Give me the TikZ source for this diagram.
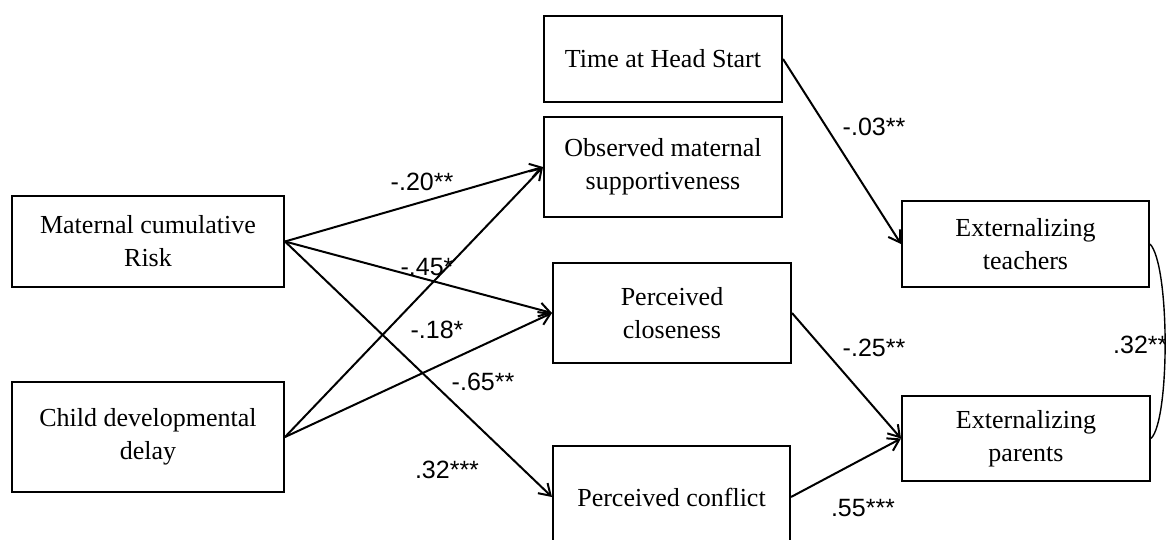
\documentclass[tikz,border=0pt]{standalone}
\usepackage{fontspec}
\setmainfont{Liberation Serif}
\newfontfamily\labfont{Liberation Sans}
\usetikzlibrary{arrows.meta}
\begin{document}
\begin{tikzpicture}[x=1pt,y=-1pt,
  box/.style={draw, line width=2pt, inner sep=0pt, align=center,
    font=\fontsize{26}{33}\selectfont},
  lab/.style={font=\labfont\fontsize{25}{28}\selectfont, inner sep=0pt},
  arr/.style={line width=2pt,
    -{Straight Barb[length=11pt,width=14pt,line width=2pt]}}]
\useasboundingbox (0,0) rectangle (1166,540);
\clip (0,0) rectangle (1166,540);
\fill[white] (0,0) rectangle (1166,540);

\node[box, minimum width=238pt, minimum height=86pt] (time) at (663,59) {Time at Head Start};
\node[box, minimum width=238pt, minimum height=100pt] (obs) at (663,167) {Observed maternal\\supportiveness};
\node[box, minimum width=272pt, minimum height=91pt] (mat) at (148,241.5) {Maternal cumulative\\Risk};
\node[box, minimum width=272pt, minimum height=110pt] (child) at (148,437) {Child developmental\\delay};
\node[box, minimum width=238pt, minimum height=100pt] (close) at (672,313) {Perceived\\closeness};
\node[box, minimum width=237pt, minimum height=102pt] (conf) at (671.5,497) {Perceived conflict};
\node[box, minimum width=247pt, minimum height=86pt] (teach) at (1025.5,244) {Externalizing\\teachers};
\node[box, minimum width=248pt, minimum height=85pt] (par) at (1026,438.5) {Externalizing\\parents};

\draw[arr] (mat.east) -- (obs.west);
\draw[arr] (mat.east) -- (close.west);
\draw[arr] (mat.east) -- (conf.west);
\draw[arr] (child.east) -- (obs.west);
\draw[arr] (child.east) -- (close.west);
\draw[arr] (time.east) -- (teach.west);
\draw[arr] (close.east) -- (par.west);
\draw[arr] (conf.east) -- (par.west);
\draw[line width=1.4pt] (teach.east) .. controls (1170,265) and (1170,420) .. (par.east);

\node[lab] (l1) at (422,182) {-.20**};
\node[lab] (l2) at (427,267) {-.45*};
\node[lab] (l3) at (437,330) {-.18*};
\node[lab] (l4) at (483,382) {-.65**};
\node[lab] (l5) at (447,470) {.32***};
\node[lab] (l6) at (874,127) {-.03**};
\node[lab] (l7) at (874,348) {-.25**};
\node[lab] (l8) at (863,508) {.55***};
\node[lab, anchor=west] (l9) at (1113,345) {.32**};
\end{tikzpicture}
\end{document}
